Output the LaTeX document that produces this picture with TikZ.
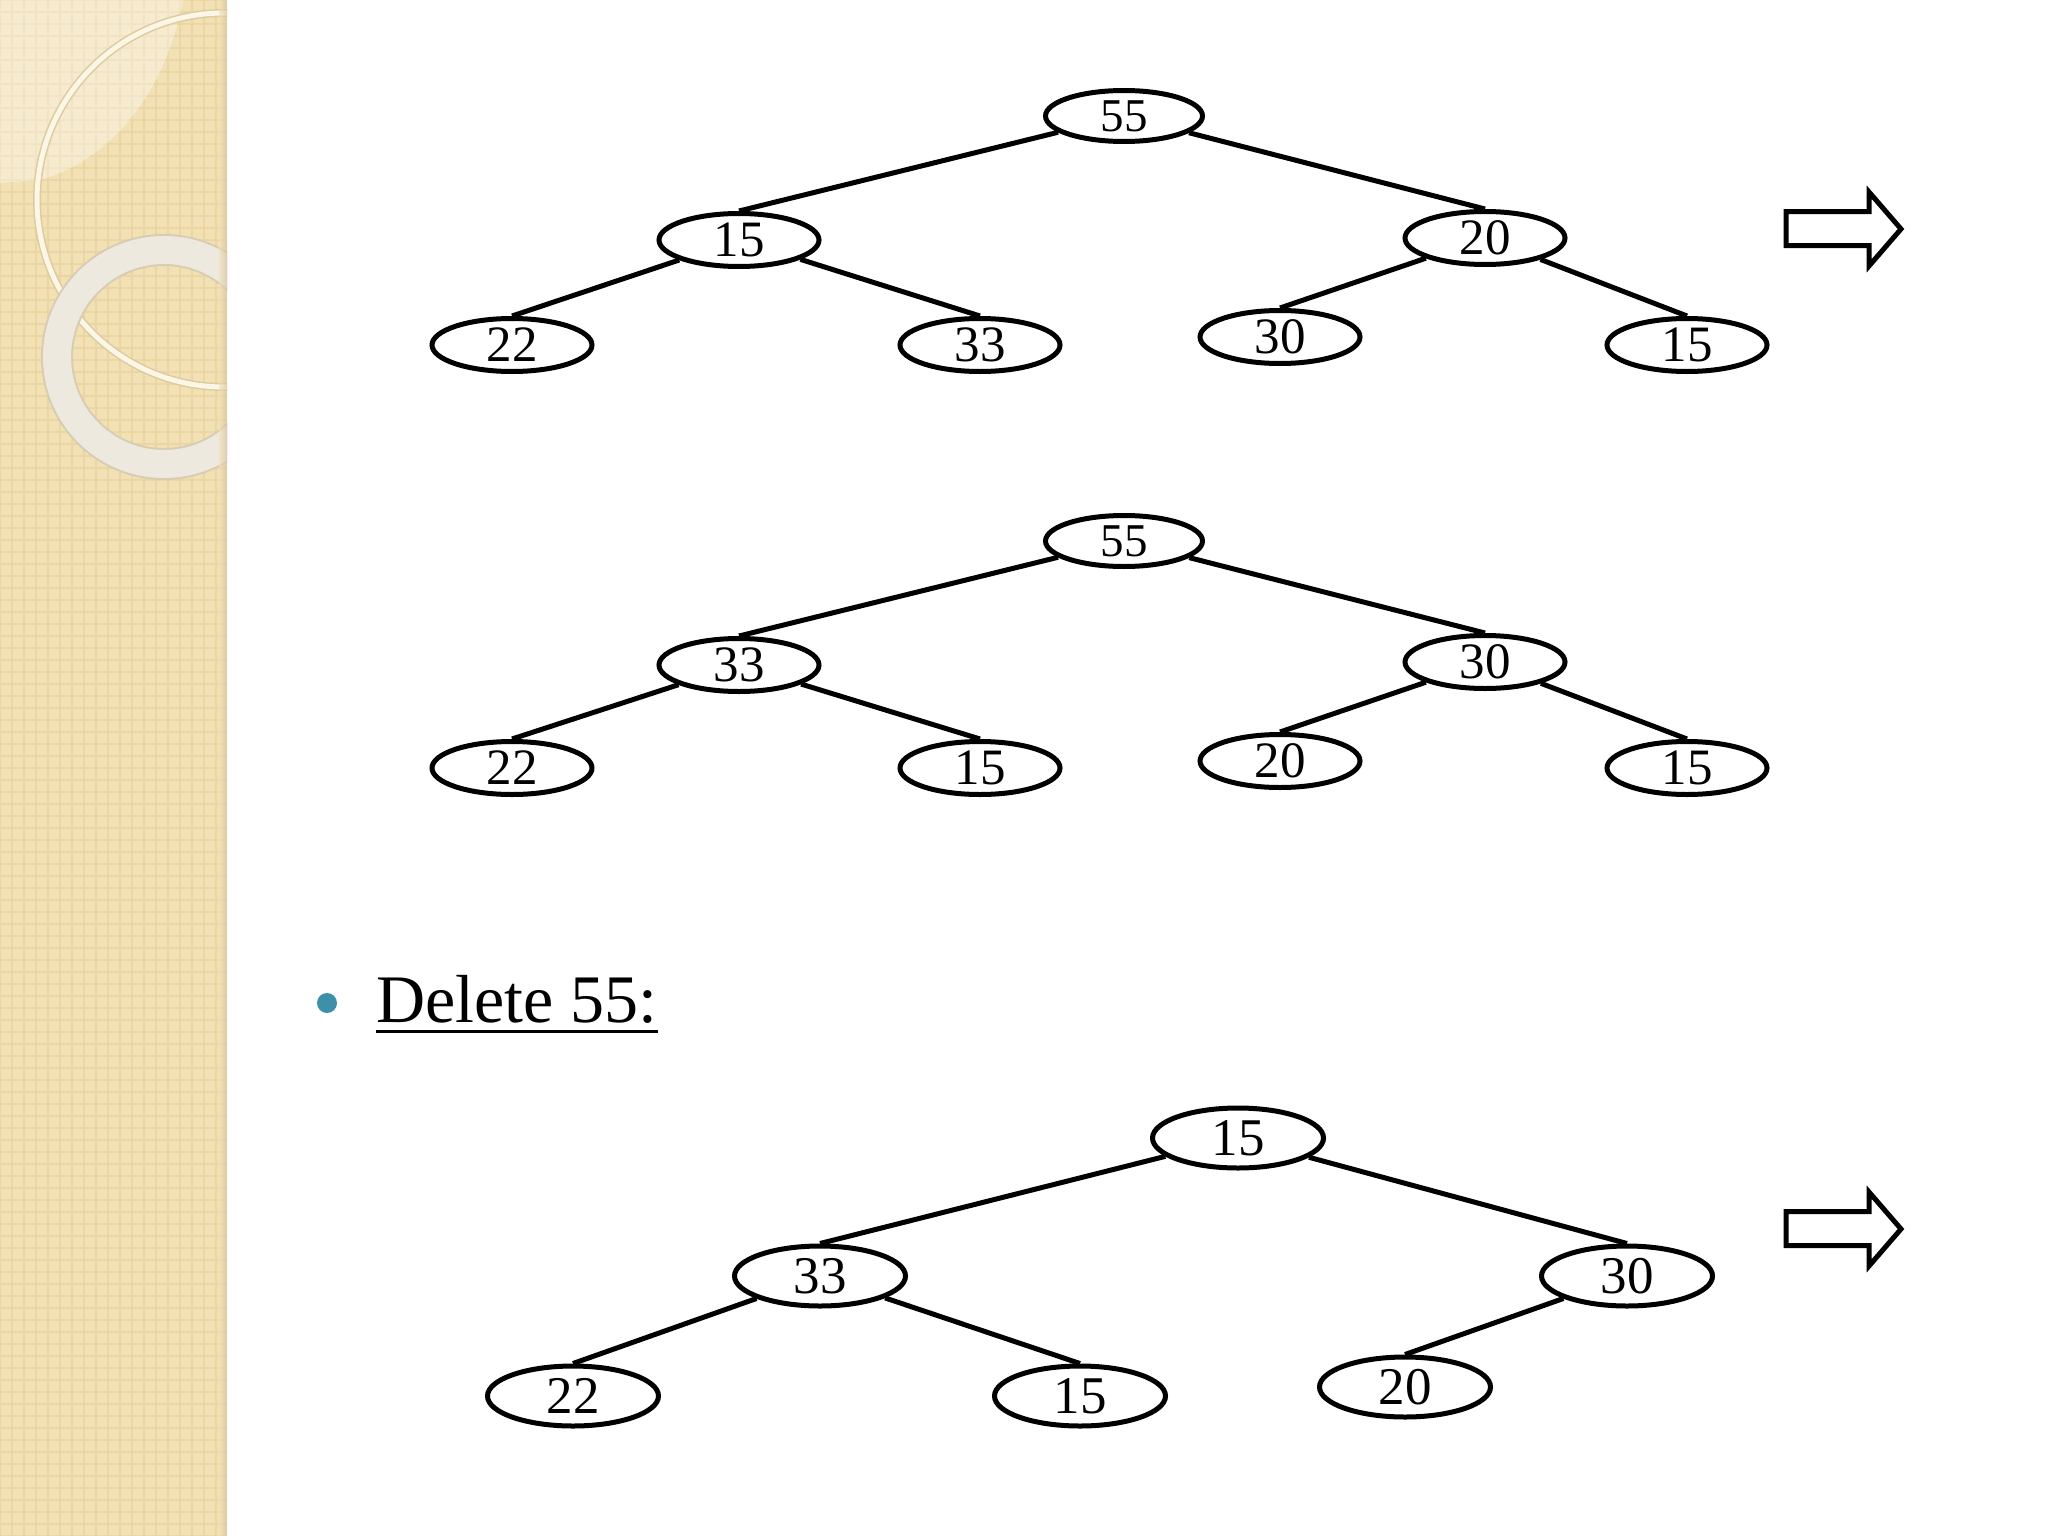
\documentclass[tikz,border=0pt]{standalone}
\usepackage{fontspec}
\setmainfont{Liberation Serif}
\usetikzlibrary{shapes.geometric}
\definecolor{panel}{HTML}{F3E1B6}
\definecolor{panelline}{HTML}{EAD5A3}
\definecolor{ringshadow}{HTML}{DCCB9F}
\definecolor{ringlight}{HTML}{FCF6E6}
\definecolor{thickshadow}{HTML}{D8CDB2}
\definecolor{thickring}{HTML}{EDE9DF}
\definecolor{edgeshade}{HTML}{CDBE97}
\definecolor{bulletcol}{HTML}{3D8FAA}
\begin{document}
\begin{tikzpicture}[x=1pt,y=-1pt,
  tn/.style={ellipse,draw,line width=5pt,inner sep=0pt,minimum width=160pt,minimum height=53pt,font=\fontsize{51}{51}\selectfont},
  tr/.style={tn,font=\fontsize{47}{47}\selectfont,minimum width=157pt,minimum height=51pt},
  tb/.style={tn,minimum width=171pt,minimum height=60pt,font=\fontsize{53}{53}\selectfont},
  ed/.style={line width=5pt},
  bigarrow/.style={line width=5pt,line join=miter}]
\useasboundingbox (0,0) rectangle (2048,1536);
\fill[white] (0,0) rectangle (2048,1536);
% decorative left panel
\begin{scope}
\clip (0,0) rectangle (227,1536);
\fill[panel] (0,0) rectangle (227,1536);
\foreach \i in {0,12,...,1536} \draw[panelline,line width=2pt] (0,\i) -- (227,\i);
\foreach \i in {0,12,...,227} \draw[panelline,line width=2pt] (\i,0) -- (\i,1536);
\fill[white,opacity=0.35] (0,0) -- (183,0) .. controls (165,95) and (110,160) .. (40,180) -- (0,183) -- cycle;
\draw[ringshadow,line width=8pt] (224,200) circle[radius=187];
\draw[ringlight,line width=5pt] (224,200) circle[radius=187];
\draw[thickshadow,line width=32pt] (164,357) circle[radius=107];
\draw[thickring,line width=28pt] (164,357) circle[radius=107];
\shade[left color=panel,right color=edgeshade,opacity=0.6] (219,0) rectangle (227,1536);
\end{scope}

% tree 1
\node[tr] (a1) at (1124,116) {55};
\node[tn] (a2) at (739,240) {15};
\node[tn] (a3) at (1485,238) {20};
\node[tn] (a4) at (512,345) {22};
\node[tn] (a5) at (980,345) {33};
\node[tn] (a6) at (1280,337) {30};
\node[tn] (a7) at (1687,345) {15};
\draw[ed] (a1) -- (a2.north);
\draw[ed] (a1) -- (a3.north);
\draw[ed] (a2) -- (a4.north);
\draw[ed] (a2) -- (a5.north);
\draw[ed] (a3) -- (a6.north);
\draw[ed] (a3) -- (a7.north);

% tree 2
\node[tr] (b1) at (1124,541) {55};
\node[tn] (b2) at (739,665) {33};
\node[tn] (b3) at (1485,662) {30};
\node[tn] (b4) at (512,768) {22};
\node[tn] (b5) at (980,768) {15};
\node[tn] (b6) at (1280,761) {20};
\node[tn] (b7) at (1687,768) {15};
\draw[ed] (b1) -- (b2.north);
\draw[ed] (b1) -- (b3.north);
\draw[ed] (b2) -- (b4.north);
\draw[ed] (b2) -- (b5.north);
\draw[ed] (b3) -- (b6.north);
\draw[ed] (b3) -- (b7.north);

% tree 3
\node[tb] (c1) at (1238,1138) {15};
\node[tb] (c2) at (820,1276) {33};
\node[tb] (c3) at (1627,1276) {30};
\node[tb] (c4) at (573,1396) {22};
\node[tb] (c5) at (1080,1396) {15};
\node[tb] (c6) at (1405,1387) {20};
\draw[ed] (c1) -- (c2.north);
\draw[ed] (c1) -- (c3.north);
\draw[ed] (c2) -- (c4.north);
\draw[ed] (c2) -- (c5.north);
\draw[ed] (c3) -- (c6.north);

% arrows
\draw[bigarrow] (1786,211.5) -- (1869,211.5) -- (1869,192) -- (1901,229) -- (1869,266) -- (1869,245.5) -- (1786,245.5) -- cycle;
\draw[bigarrow] (1786,1211.5) -- (1869,1211.5) -- (1869,1192) -- (1901,1229) -- (1869,1266) -- (1869,1245.5) -- (1786,1245.5) -- cycle;

% bullet
\fill[bulletcol] (327,1003) circle[radius=10];
\node[anchor=base west,inner sep=0pt,font=\fontsize{68}{68}\selectfont] (dl) at (376,1022) {Delete 55:};
\draw[line width=3pt] ([yshift=-9pt]dl.base west) -- ([yshift=-9pt]dl.base east);
\end{tikzpicture}
\end{document}
